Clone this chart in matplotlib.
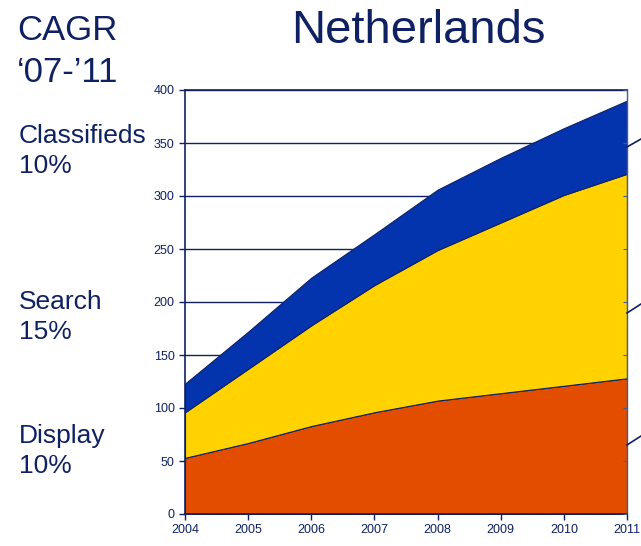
import matplotlib
matplotlib.use("Agg")
import matplotlib.pyplot as plt
from matplotlib.lines import Line2D

years = [2004, 2005, 2006, 2007, 2008, 2009, 2010, 2011]
display = [53, 67, 83, 96, 107, 114, 121, 128]
search = [43, 70, 95, 120, 142, 161, 180, 193]
classifieds = [27, 35, 45, 48, 57, 61, 63, 69]
yticks = [0, 50, 100, 150, 200, 250, 300, 350, 400]

navy = "#0F2163"
c_display = "#E34D00"
c_search = "#FFD200"
c_class = "#0433AE"

plt.rcParams['font.family'] = ['Liberation Sans', 'DejaVu Sans']

fig = plt.figure(figsize=(6.41, 5.46), dpi=100)
ax = fig.add_axes([185/641, 32/546, 442/641, 424/546])

ax.stackplot(years, display, search, classifieds,
             colors=[c_display, c_search, c_class], zorder=2,
             edgecolor=navy, linewidth=0.8)

ax.set_xlim(2004, 2011)
ax.set_ylim(0, 400)
ax.set_xticks(years)
ax.set_yticks(yticks)
ax.yaxis.grid(True, color=navy, linewidth=1.0, zorder=1)
ax.set_axisbelow(True)
ax.tick_params(axis='both', colors=navy, labelsize=9, length=4, width=1, direction='out')
for lab in ax.get_xticklabels() + ax.get_yticklabels():
    lab.set_color(navy)
for side in ['left', 'bottom', 'top']:
    ax.spines[side].set_color(navy)
    ax.spines[side].set_linewidth(1.2)
ax.spines['right'].set_color('#4A5A88')
ax.spines['right'].set_linewidth(1.0)
for sp in ax.spines.values():
    sp.set_zorder(5)

# small tick marks on inner right side
ax2 = ax.twinx()
ax2.set_ylim(0, 400)
ax2.set_yticks(yticks)
ax2.tick_params(axis='y', direction='in', length=3, colors='#4A5A88', labelright=False)
for sp in ax2.spines.values():
    sp.set_visible(False)

fig.text(291/641, 1 - 31/546, "Netherlands", fontsize=34, color=navy, ha='left', va='center')
fig.text(17/641, 1 - 30/546, "CAGR", fontsize=25, color=navy, ha='left', va='center')
fig.text(17/641, 1 - 73/546, "\u201807-\u201911", fontsize=25, color=navy, ha='left', va='center')

labels = [("Classifieds\n10%", 151), ("Search\n15%", 317), ("Display\n10%", 451)]
for txt, yc in labels:
    fig.text(19/641, 1 - yc/546, txt, fontsize=19, color=navy, ha='left', va='center',
             linespacing=1.35)

# leader lines on right edge
for y0, y1 in [(147, 139), (313, 304), (445, 436)]:
    fig.add_artist(Line2D([627/641, 641/641], [1 - y0/546, 1 - y1/546],
                          color=navy, linewidth=1.2, transform=fig.transFigure))

fig.savefig("out.png", dpi=100)
